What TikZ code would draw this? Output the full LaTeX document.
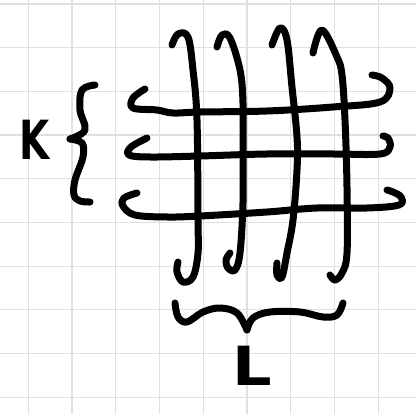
\documentclass[tikz,border=0pt]{standalone}
\usepackage{fontspec}
\newfontfamily\handfont{DejaVu Sans}
\begin{document}
\begin{tikzpicture}[x=1pt,y=-1pt,
  gridline/.style={draw=black!12,line width=1.2pt},
  pen/.style={draw=black,line width=7pt,line cap=round,line join=round},
  letter/.style={font=\handfont\bfseries\fontsize{54}{54}\selectfont,inner sep=0pt,text=black}]
\useasboundingbox (0,0) rectangle (416,414);
\fill[white] (0,0) rectangle (416,414);
% grid
\foreach \i in {0,...,8} \draw[gridline] (28.3+43.75*\i,0) -- (28.3+43.75*\i,414);
\foreach \j in {0,...,9} \draw[gridline] (0,4+43.7*\j) -- (416,4+43.7*\j);
% vertical strokes
\draw[pen] plot[smooth,tension=0.6] coordinates {(172,45) (178,34) (188,37) (193,70) (197,120) (198,220) (198,253) (193,277) (183,282) (177,272) (178,262)};
\draw[pen] plot[smooth,tension=0.6] coordinates {(217,47) (222,35) (230,38) (240,70) (243,103) (243,153) (243,203) (240,253) (235,270) (228,268) (226,260) (230,253)};
\draw[pen] plot[smooth,tension=0.6] coordinates {(272,45) (280,28) (287,40) (292,87) (297,137) (297,170) (293,220) (287,253) (282,277) (277,275) (277,263)};
\draw[pen] plot[smooth,tension=0.6] coordinates {(313,53) (322,30) (337,57) (342,75) (345,120) (347,187) (347,253) (342,273) (335,280) (330,275)};
% horizontal strokes
\draw[pen] plot[smooth,tension=0.6] coordinates {(145,89) (133,98) (133,108) (157,110) (173,113) (200,112) (267,111) (333,107) (380,102) (390,88) (382,78) (372,75)};
\draw[pen] plot[smooth,tension=0.6] coordinates {(147,138) (131,147) (129,155) (150,157) (200,156) (267,154) (333,154) (380,154) (390,147) (388,138) (383,136)};
\draw[pen] plot[smooth,tension=0.6] coordinates {(137,193) (124,198) (123,206) (135,215) (167,217) (200,216) (267,212) (317,208) (367,208) (399,205) (401,197) (393,192) (387,190)};
% K brace
\draw[pen] plot[smooth,tension=0.6] coordinates {(95,85) (82,90) (80,110) (85,130) (70,139)};
\draw[pen] plot[smooth,tension=0.6] coordinates {(70,139) (82,143) (83,157) (75,180) (74,195) (80,201) (90,202)};
% L brace
\draw[pen] plot[smooth,tension=0.6] coordinates {(175,303) (178,317) (187,322) (203,312) (220,308) (237,313) (247,330)};
\draw[pen] plot[smooth,tension=0.6] coordinates {(247,330) (253,318) (270,312) (300,312) (323,317) (337,315) (343,303)};
% labels
\node[letter,xscale=0.72,anchor=south west] (k) at (19,160) {K};
\node[letter,xscale=1.15,anchor=south west] (l) at (232,386) {L};
\end{tikzpicture}
\end{document}
